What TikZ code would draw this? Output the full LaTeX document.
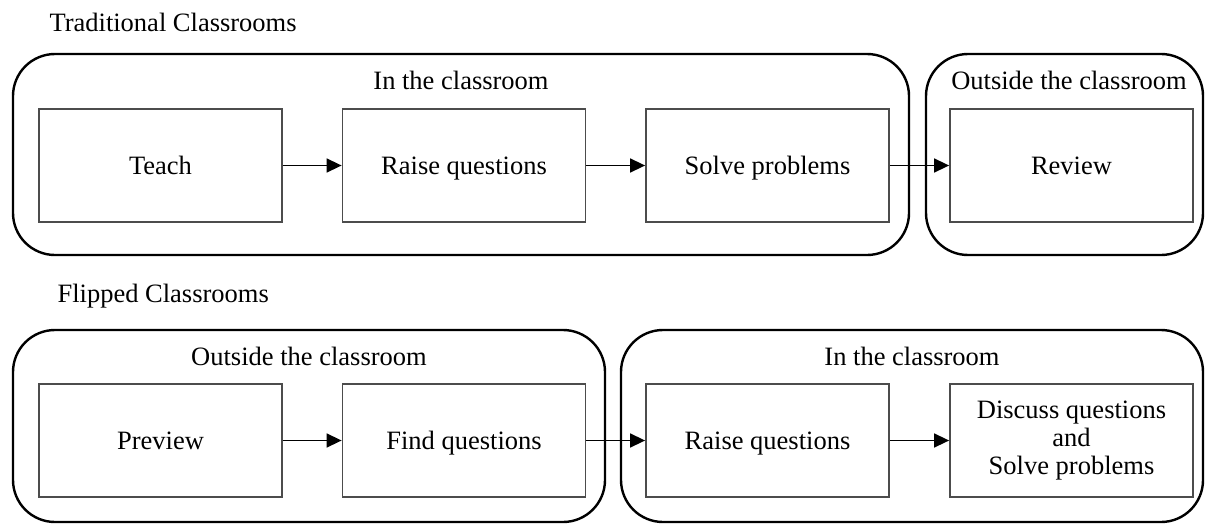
\documentclass[tikz,border=0pt]{standalone}
\usepackage{fontspec}
\setmainfont{Liberation Serif}
\usetikzlibrary{arrows.meta}
\begin{document}
\begin{tikzpicture}[x=1pt,y=-1pt,
  every node/.style={font=\fontsize{26.5}{28}\selectfont, text=black},
  frame/.style={draw=black, line width=2.4pt, rounded corners=42pt},
  stepbox/.style={draw=black!70, line width=1.8pt, minimum width=243pt,
    minimum height=113pt, inner sep=0pt, align=center},
  oneline/.style={stepbox, text height=20pt, text depth=2pt},
  flow/.style={draw=black, line width=1.5pt,
    -{Triangle[length=15pt,width=14pt]}},
  heading/.style={anchor=base west},
  zone/.style={anchor=base}]
\useasboundingbox (0,0) rectangle (1206,524);

% ---- traditional classrooms ----
\node[heading] (ttitle) at (46,32) {Traditional Classrooms};
\draw[frame] (13,54) rectangle (909,255);
\draw[frame] (926,54) rectangle (1203,255);
\node[zone] (tin) at (461,90) {In the classroom};
\node[zone] (tout) at (1069,90) {Outside the classroom};

\node[oneline] (teach)  at (160.5,165.5) {Teach};
\node[oneline] (traise) at (464,165.5)   {Raise questions};
\node[oneline] (tsolve) at (767.5,165.5) {Solve problems};
\node[oneline] (review) at (1071.5,165.5) {Review};

\draw[flow] (teach) -- (traise);
\draw[flow] (traise) -- (tsolve);
\draw[flow] (tsolve) -- (review);

% ---- flipped classrooms ----
\node[heading] (ftitle) at (54,302) {Flipped Classrooms};
\draw[frame] (13,330) rectangle (605,522);
\draw[frame] (621,330) rectangle (1203,522);
\node[zone] (fout) at (309,365) {Outside the classroom};
\node[zone] (fin) at (912,365) {In the classroom};

\node[oneline] (preview) at (160.5,440.5) {Preview};
\node[oneline] (find)    at (464,440.5)   {Find questions};
\node[oneline] (fraise)  at (767.5,440.5) {Raise questions};
\node[stepbox] (discuss) at (1071.5,440.5) {Discuss questions\\and\\Solve problems};

\draw[flow] (preview) -- (find);
\draw[flow] (find) -- (fraise);
\draw[flow] (fraise) -- (discuss);
\end{tikzpicture}
\end{document}
